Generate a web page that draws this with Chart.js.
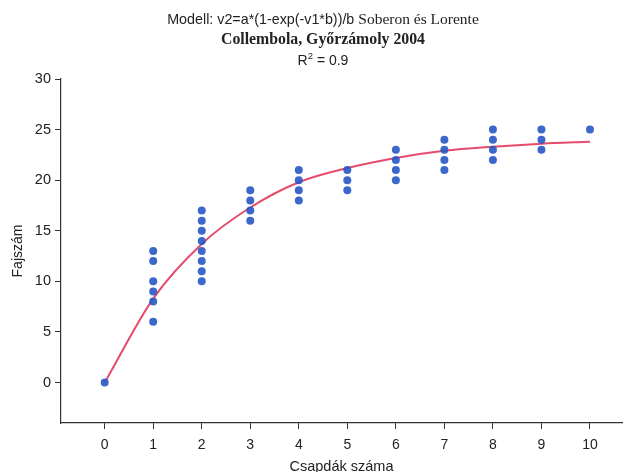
<!DOCTYPE html>
<html>
<head>
<meta charset="utf-8">
<script src="https://cdn.jsdelivr.net/npm/chart.js@4/dist/chart.umd.min.js"></script>
<style>
  html, body { margin: 0; padding: 0; background: #fff; }
  #wrap { width: 626px; height: 472px; position: relative; }
</style>
</head>
<body>
<div id="wrap"><canvas id="chart"></canvas></div>
<script>
// csapdák száma (x) és a hozzájuk tartozó fajszámok
const trapCounts = [0, 1, 2, 3, 4, 5, 6, 7, 8, 9, 10];
const speciesByTrap = [
  [0],
  [13, 12, 10, 9, 8, 6],
  [17, 16, 15, 14, 13, 12, 11, 10],
  [19, 18, 17, 16],
  [21, 20, 19, 18],
  [21, 20, 19],
  [23, 22, 21, 20],
  [24, 23, 22, 21],
  [25, 24, 23, 22],
  [25, 24, 23],
  [25]
];
// illesztett görbe értékei az egész x helyeken
const modelCurve = [0, 8.3, 13.7, 17.3, 19.8, 21.2, 22.2, 22.9, 23.3, 23.6, 23.8];
const yTicks = [0, 5, 10, 15, 20, 25, 30];
const xTicks = [0, 1, 2, 3, 4, 5, 6, 7, 8, 9, 10];

const scatterPoints = [];
trapCounts.forEach((x, i) => {
  speciesByTrap[i].forEach(y => scatterPoints.push({ x: x, y: y }));
});
const curvePoints = trapCounts.map((x, i) => ({ x: x, y: modelCurve[i] }));

const SANS = '"Liberation Sans", Arial, sans-serif';
const SERIF = '"Liberation Serif", "Times New Roman", serif';

// háromsoros cím, vegyes betűtípusokkal
const titleBlock = {
  id: 'titleBlock',
  afterDraw(chart) {
    const ctx = chart.ctx;
    const cx = 323;
    ctx.save();
    ctx.fillStyle = '#222';
    ctx.textBaseline = 'middle';
    ctx.textAlign = 'left';

    const p1 = 'Modell: v2=a*(1-exp(-v1*b))/b ';
    const p2 = 'Soberon és Lorente';
    const f1 = '14.3px ' + SANS, f2 = '15.5px ' + SERIF;
    ctx.font = f1; const w1 = ctx.measureText(p1).width;
    ctx.font = f2; const w2 = ctx.measureText(p2).width;
    let x = cx - (w1 + w2) / 2;
    ctx.font = f1; ctx.fillText(p1, x, 20);
    ctx.font = f2; ctx.fillText(p2, x + w1, 20);

    ctx.font = 'bold 15.8px ' + SERIF;
    ctx.textAlign = 'center';
    ctx.fillText('Collembola, Győrzámoly 2004', cx, 40);

    ctx.textAlign = 'left';
    const r = 'R', sup = '2', rest = ' = 0.9';
    ctx.font = '14px ' + SANS;
    const wr = ctx.measureText(r).width, wrest = ctx.measureText(rest).width;
    ctx.font = '9.5px ' + SANS;
    const ws = ctx.measureText(sup).width;
    x = cx - (wr + ws + wrest) / 2;
    ctx.font = '14px ' + SANS; ctx.fillText(r, x, 61);
    ctx.font = '9.5px ' + SANS; ctx.fillText(sup, x + wr, 56);
    ctx.font = '14px ' + SANS; ctx.fillText(rest, x + wr + ws, 61);
    ctx.restore();
  }
};

new Chart(document.getElementById('chart'), {
  type: 'scatter',
  data: {
    datasets: [
      {
        label: 'Fajszám',
        data: scatterPoints,
        pointRadius: 4,
        pointHoverRadius: 4,
        pointBackgroundColor: 'rgba(38, 88, 196, 0.9)',
        pointBorderWidth: 0,
        order: 1
      },
      {
        label: 'Modell',
        type: 'line',
        data: curvePoints,
        borderColor: '#e54b6b',
        borderWidth: 2,
        pointRadius: 0,
        cubicInterpolationMode: 'monotone',
        fill: false,
        order: 2
      }
    ]
  },
  options: {
    responsive: true,
    maintainAspectRatio: false,
    animation: false,
    layout: { padding: { top: 79, left: 0, right: 4, bottom: 0 } },
    plugins: {
      legend: { display: false },
      tooltip: { enabled: false }
    },
    scales: {
      x: {
        type: 'linear',
        min: -0.9,
        max: 10.66,
        afterFit(scale) { scale.height = 49; },
        afterBuildTicks(scale) { scale.ticks = xTicks.map(v => ({ value: v })); },
        ticks: {
          font: { family: SANS, size: 14 },
          color: '#222',
          padding: 8
        },
        grid: {
          drawOnChartArea: false,
          drawTicks: true,
          tickLength: 6,
          tickColor: '#333'
        },
        border: { display: true, color: '#333', width: 1.2 },
        title: {
          display: true,
          text: 'Csapdák száma',
          font: { family: SANS, size: 14.5 },
          color: '#222',
          padding: { top: 0, bottom: -4 }
        }
      },
      y: {
        type: 'linear',
        min: -4,
        max: 30,
        afterFit(scale) { scale.width = 61; },
        afterBuildTicks(scale) { scale.ticks = yTicks.map(v => ({ value: v })); },
        ticks: {
          font: { family: SANS, size: 14.5 },
          color: '#222',
          padding: 4
        },
        grid: {
          drawOnChartArea: false,
          drawTicks: true,
          tickLength: 6,
          tickColor: '#333'
        },
        border: { display: true, color: '#333', width: 1.2 },
        title: {
          display: true,
          text: 'Fajszám',
          font: { family: SANS, size: 14 },
          color: '#222',
          padding: { top: 10, bottom: 0 }
        }
      }
    }
  },
  plugins: [titleBlock]
});
</script>
</body>
</html>
